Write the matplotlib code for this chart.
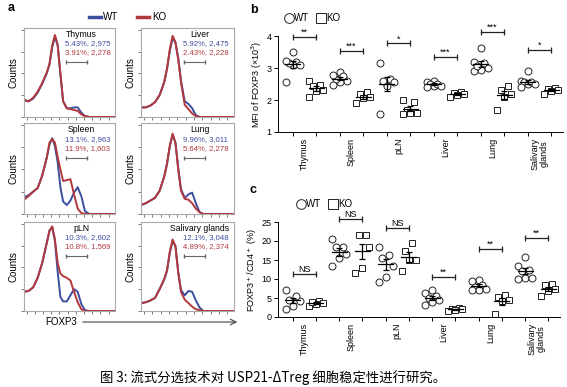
import numpy as np
import matplotlib.pyplot as plt
from matplotlib.lines import Line2D

plt.rcParams['font.family'] = ['Liberation Sans', 'DejaVu Sans']

# ---- panel a: FOXP3 histograms (normalised heights) ----
hist_x = [0, 0.05, 0.1, 0.15, 0.2, 0.25, 0.28, 0.31, 0.34, 0.37,
          0.40, 0.43, 0.47, 0.51, 0.55, 0.59, 0.63, 0.67, 0.72, 1.0]

tissues_a = ['Thymus', 'Liver', 'Spleen', 'Lung', 'pLN', 'Salivary glands']
wt_stats = ['5.43%, 2,975', '5.92%, 2,475', '13.1%, 2,963',
            '9.96%, 3,011', '10.3%, 2,602', '12.1%, 3,048']
ko_stats = ['3.91%, 2,278', '2.43%, 2,228', '11.9%, 1,603',
            '5.64%, 2,278', '10.8%, 1,569', '4.89%, 2,374']

hist_wt = [
    [0.19, 0.18, 0.21, 0.28, 0.38, 0.50, 0.60, 0.80, 0.92, 0.82, 0.49, 0.18, 0.10, 0.10, 0.11, 0.11, 0.05, 0.01, 0, 0],
    [0.11, 0.11, 0.13, 0.17, 0.25, 0.40, 0.55, 0.76, 0.91, 0.85, 0.68, 0.42, 0.18, 0.15, 0.10, 0.02, 0, 0, 0, 0],
    [0.19, 0.21, 0.25, 0.29, 0.43, 0.63, 0.78, 0.85, 0.76, 0.58, 0.30, 0.14, 0.10, 0.15, 0.24, 0.30, 0.20, 0.03, 0, 0],
    [0.10, 0.12, 0.15, 0.18, 0.26, 0.42, 0.56, 0.76, 0.89, 0.80, 0.52, 0.28, 0.18, 0.22, 0.24, 0.12, 0.02, 0, 0, 0],
    [0.22, 0.23, 0.27, 0.38, 0.55, 0.78, 0.92, 0.96, 0.80, 0.45, 0.16, 0.11, 0.11, 0.18, 0.25, 0.22, 0.08, 0.01, 0, 0],
    [0.09, 0.10, 0.12, 0.15, 0.25, 0.36, 0.46, 0.67, 0.80, 0.75, 0.45, 0.24, 0.18, 0.23, 0.22, 0.12, 0.04, 0, 0, 0],
]
hist_ko = [
    [0.20, 0.18, 0.22, 0.29, 0.39, 0.51, 0.61, 0.82, 0.94, 0.83, 0.50, 0.18, 0.10, 0.09, 0.08, 0.07, 0.03, 0.01, 0, 0],
    [0.11, 0.11, 0.13, 0.17, 0.25, 0.40, 0.56, 0.78, 0.93, 0.86, 0.66, 0.40, 0.14, 0.09, 0.04, 0.01, 0, 0, 0, 0],
    [0.16, 0.20, 0.25, 0.29, 0.43, 0.63, 0.80, 0.84, 0.80, 0.64, 0.50, 0.37, 0.38, 0.39, 0.22, 0.06, 0.01, 0, 0, 0],
    [0.10, 0.12, 0.15, 0.18, 0.26, 0.42, 0.57, 0.77, 0.90, 0.80, 0.50, 0.26, 0.17, 0.16, 0.12, 0.06, 0.02, 0, 0, 0],
    [0.22, 0.23, 0.27, 0.38, 0.55, 0.78, 0.92, 0.97, 0.82, 0.55, 0.43, 0.40, 0.38, 0.35, 0.22, 0.10, 0.02, 0, 0, 0],
    [0.09, 0.10, 0.12, 0.15, 0.25, 0.37, 0.47, 0.68, 0.82, 0.74, 0.44, 0.22, 0.13, 0.09, 0.05, 0.02, 0.01, 0, 0, 0],
]

# ---- panels b and c: per-mouse values ----
categories = ['Thymus', 'Spleen', 'pLN', 'Liver', 'Lung', 'Salivary\nglands']

mfi_wt = [[3.5, 3.2, 3.1, 3.15, 3.22, 3.1, 2.55],
          [2.87, 2.75, 2.6, 2.55, 2.65, 2.78, 2.47],
          [3.15, 2.65, 2.6, 2.55, 2.45, 1.55],
          [2.6, 2.55, 2.5, 2.45, 2.5, 2.45, 2.42],
          [3.62, 3.2, 3.15, 3.0, 2.95, 2.9, 3.05],
          [2.92, 2.6, 2.55, 2.5, 2.55, 2.4, 2.5]]
mfi_ko = [[2.6, 2.48, 2.45, 2.3, 2.08, 2.28],
          [2.2, 2.25, 2.1, 1.9, 2.05],
          [2.0, 1.95, 1.7, 1.6, 1.55, 1.6],
          [2.25, 2.22, 2.2, 2.15, 2.1],
          [2.45, 2.3, 2.2, 2.1, 1.7],
          [2.38, 2.35, 2.3, 2.28, 2.2]]
mfi_sig = ['**', '***', '*', '***', '***', '*']
mfi_sig_y = [3.97, 3.53, 3.77, 3.35, 4.13, 3.56]

pct_wt = [[7.0, 4.3, 2.0, 3.0, 4.5, 5.5],
          [20.5, 18.5, 16.5, 15.5, 13.5, 18.3],
          [18.5, 16.3, 15.5, 13.5, 10.5, 9.2],
          [7.2, 6.3, 5.5, 5.0, 4.5, 4.0, 3.2],
          [9.8, 9.5, 8.5, 8.0, 7.5, 7.2, 7.2],
          [15.7, 13.5, 12.5, 12.0, 10.2, 10.0, 10.2]]
pct_ko = [[4.2, 3.8, 3.5, 2.8, 4.0],
          [21.5, 21.5, 18.5, 13.0, 11.7],
          [19.5, 17.5, 15.0, 15.0, 12.0],
          [2.5, 2.2, 2.0, 1.8, 1.5],
          [5.7, 5.2, 4.5, 4.2, 0.8],
          [8.7, 8.5, 7.5, 6.8, 5.5]]
pct_sig = ['NS', 'NS', 'NS', '**', '**', '**']
pct_sig_y = [11.2, 25.8, 23.3, 10.6, 17.9, 20.9]

W, H = 567, 387
blue = '#3c4e9e'
red = '#b3383b'

fig = plt.figure(figsize=(W / 100, H / 100), dpi=100)


def box(x0, y0, x1, y1):
    # pixel box measured from the top-left -> figure rect
    return [x0 / W, 1 - y1 / H, (x1 - x0) / W, (y1 - y0) / H]


def fpt(x, y):
    return x / W, 1 - y / H


# panel a
hist_boxes = [(24, 28, 115, 117), (141, 28, 234, 117),
              (24, 123, 115, 214), (141, 123, 234, 214),
              (24, 222, 115, 311), (141, 222, 234, 311)]
for k in range(6):
    ax = fig.add_axes(box(*hist_boxes[k]))
    ax.plot(hist_x, hist_wt[k], color=blue, lw=1.4)
    ax.plot(hist_x, hist_ko[k], color=red, lw=1.4)
    ax.set_xlim(0, 1)
    ax.set_ylim(0, 1.02)
    for s in ax.spines.values():
        s.set_color('#aaaaaa')
        s.set_linewidth(0.8)
    ax.set_xticks(np.linspace(0.03, 0.93, 11))
    ax.set_yticks([0, 0.25, 0.5, 0.75, 1.0])
    ax.tick_params(length=2, width=0.6, color='#666666',
                   labelbottom=False, labelleft=False)
    ax.set_ylabel('Counts', fontsize=7, labelpad=2)
    ax.text(0.63, 0.93, tissues_a[k], fontsize=6.2, ha='center', va='center',
            transform=ax.transAxes)
    ax.text(0.45, 0.82, wt_stats[k], fontsize=5.6, color=blue, ha='left',
            va='center', transform=ax.transAxes)
    ax.text(0.45, 0.72, ko_stats[k], fontsize=5.6, color=red, ha='left',
            va='center', transform=ax.transAxes)
    ax.plot([0.46, 0.69], [0.62, 0.62], color='#666666', lw=0.8,
            marker='|', ms=3, transform=ax.transAxes)

fig.text(*fpt(8, 8), 'a', fontsize=9, fontweight='bold', va='center')
fig.add_artist(Line2D([89 / W, 101 / W], [1 - 17 / H] * 2, color=blue, lw=2.5))
fig.text(*fpt(103, 17), 'WT', fontsize=7, va='center')
fig.add_artist(Line2D([137 / W, 149 / W], [1 - 17 / H] * 2, color=red, lw=2.5))
fig.text(*fpt(152, 17), 'KO', fontsize=7, va='center')
fig.text(*fpt(45, 322), 'FOXP3', fontsize=7, va='center')
fig.add_artist(plt.Annotation('', xy=fpt(240, 322), xytext=fpt(80, 322),
                              xycoords='figure fraction',
                              arrowprops=dict(arrowstyle='->', color='#444444', lw=0.8)))


def dot_panel(ax, wt, ko, sig, sig_y):
    for i in range(6):
        for j, (vals, mk) in enumerate(((wt[i], 'o'), (ko[i], 's'))):
            v = np.array(vals, dtype=float)
            xc = 2 * i + j
            offs = np.zeros(len(v))
            offs[np.argsort(v)] = np.resize([-0.3, 0.0, 0.3, -0.15, 0.15], len(v))
            ax.plot(xc + offs, v, mk, ms=5, mfc='white', mec='#222222',
                    mew=0.7, zorder=2, clip_on=False)
            m = v.mean()
            se = v.std(ddof=1) / np.sqrt(len(v))
            ax.plot([xc - 0.32, xc + 0.32], [m, m], color='k', lw=0.9, zorder=3)
            ax.errorbar(xc, m, yerr=se, color='k', lw=0.9, capsize=2.5,
                        capthick=0.9, zorder=3)
        ax.plot([2 * i, 2 * i + 1], [sig_y[i]] * 2, color='#222222', lw=0.9,
                marker='|', ms=4, mew=0.9, clip_on=False)
        ax.text(2 * i + 0.5, sig_y[i], sig[i], fontsize=6.5,
                ha='center', va='bottom')
    ax.set_xlim(-0.63, 11.5)
    ax.set_xticks(np.arange(6) * 2 + 0.5)
    ax.set_xticklabels(categories, rotation=90, fontsize=6.5, linespacing=1.0)
    ax.set_xticks(np.arange(12), minor=True)
    ax.tick_params(axis='x', which='major', length=0, pad=4)
    ax.tick_params(axis='x', which='minor', length=3, width=0.7)
    ax.tick_params(axis='y', length=3, width=0.7, labelsize=6.5, pad=1.5)
    for s in ('top', 'right'):
        ax.spines[s].set_visible(False)
    for s in ('left', 'bottom'):
        ax.spines[s].set_linewidth(0.7)


# panel b
bx = fig.add_axes(box(278, 36, 563, 132))
dot_panel(bx, mfi_wt, mfi_ko, mfi_sig, mfi_sig_y)
bx.set_ylim(1, 4)
bx.set_yticks([1, 2, 3, 4])
bx.set_ylabel('MFI of FOXP3 (\u00d710$^3$)', fontsize=6.5, labelpad=2)
fig.text(*fpt(250, 10), 'b', fontsize=9, fontweight='bold', va='center')

# panel c
cx = fig.add_axes(box(278, 222, 560, 317))
dot_panel(cx, pct_wt, pct_ko, pct_sig, pct_sig_y)
cx.set_ylim(0, 25)
cx.set_yticks([0, 5, 10, 15, 20, 25])
cx.set_ylabel('FOXP3$^+$/CD4$^+$ (%)', fontsize=6.5, labelpad=2)
fig.text(*fpt(250, 190), 'c', fontsize=9, fontweight='bold', va='center')

for (xc, yc) in ((284, 18), (296, 204)):
    handles = [Line2D([], [], ls='', marker='o', ms=7, mfc='white', mec='#222222', mew=0.7),
               Line2D([], [], ls='', marker='s', ms=7, mfc='white', mec='#222222', mew=0.7)]
    fig.legend(handles, ['WT', 'KO'], loc='center left', bbox_to_anchor=fpt(xc, yc),
               ncol=2, frameon=False, fontsize=7, handletextpad=0.05,
               columnspacing=0.7, handlelength=1.0, borderpad=0, borderaxespad=0)

fig.text(*fpt(100, 378), '图 3: 流式分选技术对 USP21-ΔTreg 细胞稳定性进行研究。',
         fontsize=9.6, va='center', family=['Noto Sans CJK SC', 'DejaVu Sans'])

fig.savefig('out.png', dpi=100)
